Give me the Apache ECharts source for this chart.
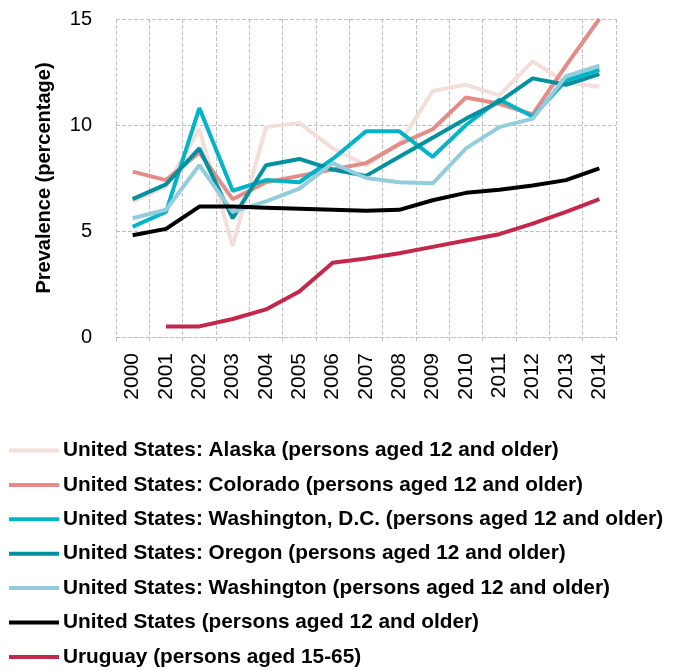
<!DOCTYPE html>
<html lang="en" style="height: 100%">
<head>
	<meta charset="utf-8">
	<title>Prevalence chart</title>
</head>
<body style='height: 100%; margin: 0; background: #fff'>
<div id='container' style='width: 681px; height: 671px'></div>
<script type='text/javascript' src='https://cdn.jsdelivr.net/npm/echarts@6/dist/echarts.min.js'></script>
<script type="text/javascript">

	// 年份
	var years = ['2000','2001','2002','2003','2004','2005','2006','2007','2008','2009','2010','2011','2012','2013','2014'];

	// 各系列数据
	var alaska     = [6.4, 7.1, 9.8, 4.3, 9.9, 10.1, 8.9, 8.1, 9.1, 11.6, 11.9, 11.4, 13.0, 12.0, 11.8];
	var colorado   = [7.8, 7.4, 8.7, 6.5, 7.3, 7.6, 7.9, 8.2, 9.1, 9.8, 11.3, 11.0, 10.5, 12.8, 15.0];
	var dc         = [5.2, 5.9, 10.8, 6.9, 7.4, 7.3, 8.4, 9.7, 9.7, 8.5, 10.0, 11.2, 10.4, 12.1, 12.6];
	var oregon     = [6.5, 7.2, 8.9, 5.6, 8.1, 8.4, 7.9, 7.6, 8.5, 9.4, 10.3, 11.1, 12.2, 11.9, 12.4];
	var washington = [5.6, 6.0, 8.1, 5.9, 6.4, 7.0, 8.2, 7.5, 7.3, 7.25, 8.9, 9.9, 10.3, 12.3, 12.8];
	var usa        = [4.8, 5.1, 6.15, 6.15, 6.1, 6.05, 6.0, 5.95, 6.0, 6.45, 6.8, 6.95, 7.15, 7.4, 7.95];
	var uruguay    = [null, 0.5, 0.5, 0.85, 1.3, 2.15, 3.5, 3.7, 3.95, 4.25, 4.55, 4.85, 5.35, 5.9, 6.5];

	var names = [
		'United States: Alaska (persons aged 12 and older)',
		'United States: Colorado (persons aged 12 and older)',
		'United States: Washington, D.C. (persons aged 12 and older)',
		'United States: Oregon (persons aged 12 and older)',
		'United States: Washington (persons aged 12 and older)',
		'United States (persons aged 12 and older)',
		'Uruguay (persons aged 15-65)'
	];
	var colors = ['#F2DFDA', '#E38C88', '#00B3C7', '#00909E', '#93CDDB', '#000000', '#C3274A'];
	var values = [alaska, colorado, dc, oregon, washington, usa, uruguay];

	var font = "'Liberation Sans', sans-serif";

	var series = [];
	for (var i = 0; i < names.length; i++) {
		series.push({
			name: names[i],
			type: 'line',
			data: values[i],
			showSymbol: false,
			symbol: 'none',
			lineStyle: { width: 4, color: colors[i] },
			itemStyle: { color: colors[i] },
			z: 2 + i
		});
	}

	var dom = document.getElementById('container');
	var myChart = echarts.init(dom, null, { renderer: 'canvas' });

	var option = {
		animation: false,
		backgroundColor: '#fff',
		grid: { left: 116, right: 65, top: 19, bottom: 334 },
		legend: {
			orient: 'vertical',
			left: 9,
			top: 440,
			height: 260,
			padding: 0,
			icon: 'rect',
			itemWidth: 50,
			itemHeight: 4,
			itemGap: 13.4,
			textStyle: { fontFamily: font, fontWeight: 'bold', fontSize: 20.8, color: '#000', lineHeight: 21, padding: [0, 0, 0, -1] },
			data: names
		},
		xAxis: {
			type: 'category',
			data: years,
			boundaryGap: true,
			axisLine: { lineStyle: { color: '#bfbfbf', type: 'dashed', width: 1 } },
			axisTick: { show: true, length: 4, lineStyle: { color: '#bfbfbf' } },
			axisLabel: { rotate: 90, fontFamily: font, fontSize: 21, color: '#000', margin: 16 },
			splitLine: { show: true, interval: 0, lineStyle: { color: '#bfbfbf', type: 'dashed', width: 1 } }
		},
		yAxis: {
			type: 'value',
			min: 0,
			max: 15,
			interval: 5,
			name: 'Prevalence (percentage)',
			nameLocation: 'middle',
			nameGap: 62,
			nameTextStyle: { fontFamily: font, fontWeight: 'bold', fontSize: 20, color: '#000' },
			axisLine: { show: false },
			axisTick: { show: false },
			axisLabel: { fontFamily: font, fontSize: 20, color: '#000', margin: 24 },
			splitLine: { show: true, lineStyle: { color: '#bfbfbf', type: 'dashed', width: 1 } }
		},
		series: series
	};

	myChart.setOption(option);

</script>
</body>
</html>
